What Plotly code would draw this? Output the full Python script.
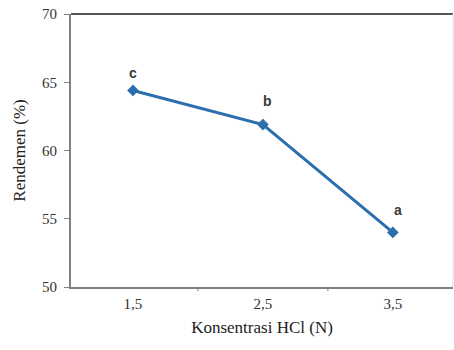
import plotly.graph_objects as go

konsentrasi = ["1,5", "2,5", "3,5"]
rendemen = [64.4, 61.9, 54.0]
notasi = ["c", "b", "a"]
y_ticks = [50, 55, 60, 65, 70]

x_pos = list(range(len(konsentrasi)))

fig = go.Figure()
fig.add_trace(go.Scatter(
    x=x_pos, y=rendemen, mode="lines+markers",
    line=dict(color="#2C6FAE", width=3),
    marker=dict(symbol="diamond", size=9, color="#2C6FAE"),
    showlegend=False, hoverinfo="skip",
))

shifts = [(0, 17), (5, 24), (5, 22)]
for xi, yi, lab, (dx, dy) in zip(x_pos, rendemen, notasi, shifts):
    fig.add_annotation(x=xi, y=yi, text="<b>" + lab + "</b>", showarrow=False,
                       xshift=dx, yshift=dy,
                       font=dict(family="Liberation Sans, Arial", size=14, color="#3a3a3a"))

serif = "Liberation Serif, Times New Roman, serif"
fig.update_layout(
    width=454, height=350,
    margin=dict(l=71, r=1, t=14, b=63),
    paper_bgcolor="white", plot_bgcolor="white",
    xaxis=dict(
        range=[-0.477, 2.463], tickmode="array", tickvals=x_pos, ticktext=konsentrasi,
        showgrid=False, zeroline=False,
        showline=True, linecolor="#7f7f7f", linewidth=2, mirror=False,
        ticks="", tickfont=dict(family=serif, size=15, color="#333333"),
        ticklabelstandoff=2,
        title=dict(text="Konsentrasi HCl (N)", font=dict(family=serif, size=17, color="#222222"), standoff=10),
    ),
    yaxis=dict(
        range=[50, 70], tickvals=y_ticks, showgrid=False, zeroline=False,
        showline=True, linecolor="#7f7f7f", linewidth=2,
        ticks="outside", ticklen=5, tickcolor="#7f7f7f",
        ticklabelstandoff=4,
        tickfont=dict(family=serif, size=15, color="#333333"),
        title=dict(text="Rendemen (%)", font=dict(family=serif, size=17, color="#222222"), standoff=12),
    ),
)

# top frame line and faint right border
fig.add_shape(type="line", xref="paper", yref="paper", x0=0, x1=1, y0=1, y1=1,
              line=dict(color="#555555", width=2))
fig.add_shape(type="line", xref="paper", yref="paper", x0=1, x1=1, y0=0, y1=1,
              line=dict(color="#dddddd", width=1))
# between-category ticks on x axis
for xb in [0.5, 1.5]:
    fig.add_shape(type="line", xref="x", yref="paper", x0=xb, x1=xb, y0=0, y1=-0.015,
                  line=dict(color="#7f7f7f", width=1))

fig.write_html("out.html")
